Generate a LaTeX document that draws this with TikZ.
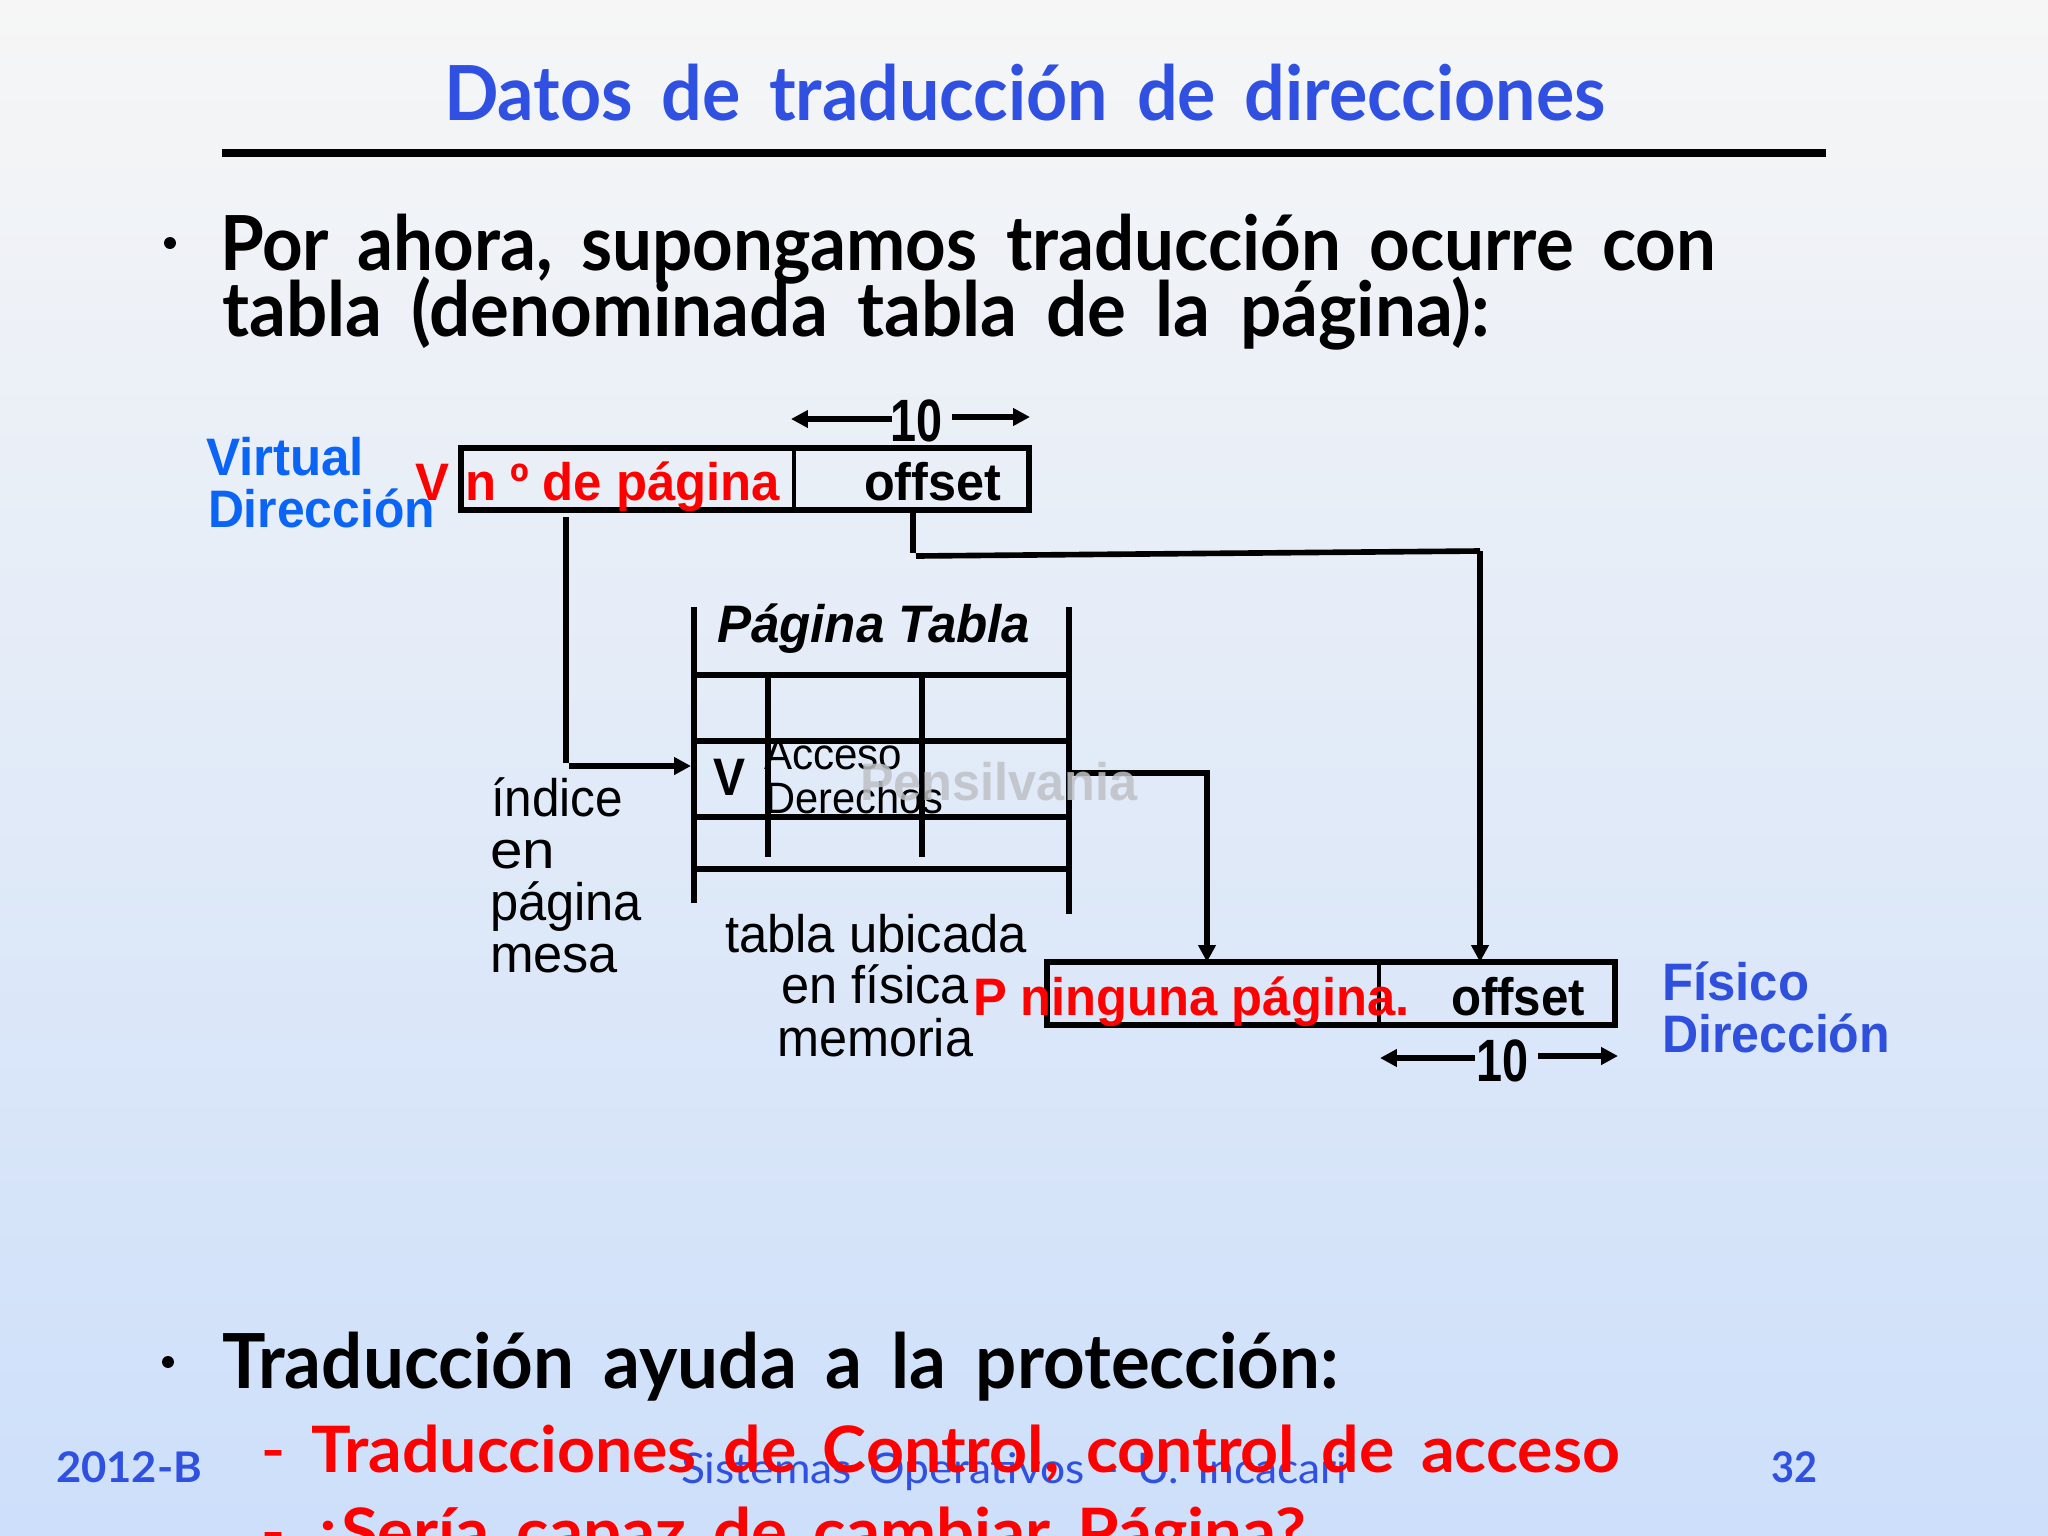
\documentclass[tikz,border=0pt]{standalone}
\usepackage{fontspec}
\usepackage{graphicx}
\setmainfont{Liberation Sans}
\newfontfamily\comic{Lato}
\usetikzlibrary{arrows.meta}
\definecolor{bgtop}{HTML}{F6F6F6}
\definecolor{bgbot}{HTML}{CDDFFA}
\definecolor{titleblue}{HTML}{2F50E0}
\definecolor{virtblue}{HTML}{0A64F5}
\definecolor{physblue}{HTML}{2F50DC}
\definecolor{wmark}{HTML}{BEC2C6}
\newcommand\fitw[2]{\resizebox{#1cm}{\height}{#2}}
\newcommand\T[6]{\node[anchor=base west,inner sep=0pt,outer sep=0pt,#5] (#1) at (#2,#3) {\fitw{#4}{#6}};}
\newcommand\TC[6]{\node[anchor=base west,inner sep=0pt,outer sep=0pt,#5] (#1) at (#2,#3) {\spaceskip=.4em\relax\fitw{#4}{#6}};}
\tikzset{
  title/.style={font=\comic\bfseries\fontsize{21.6pt}{24pt}\selectfont,text=titleblue},
  body/.style={font=\comic\bfseries\fontsize{21.6pt}{24pt}\selectfont,text=black},
  sub/.style={font=\comic\bfseries\fontsize{18.2pt}{22pt}\selectfont,text=red},
  foot/.style={font=\comic\bfseries\fontsize{12pt}{14pt}\selectfont,text=titleblue},
  footmid/.style={font=\comic\fontsize{12pt}{14pt}\selectfont,text=titleblue},
  lab/.style={font=\fontsize{15pt}{17pt}\selectfont,text=black},
  labb/.style={font=\bfseries\fontsize{15pt}{17pt}\selectfont,text=black},
  tenlab/.style={font=\bfseries\fontsize{17pt}{19pt}\selectfont,text=black},
  small/.style={font=\fontsize{12.5pt}{14pt}\selectfont,text=black},
  box/.style={draw=black,line width=1.6pt,inner sep=0pt,outer sep=0pt,minimum width=#1},
  wire/.style={line width=1.6pt,draw=black},
  grid/.style={line width=1.5pt,draw=black},
  tip/.style={-{Triangle[length=4.8pt,width=4.8pt]}},
  bit/.style={line width=1.4pt,draw=black},
  bullet/.style={circle,fill=black,inner sep=0pt,minimum size=3.4pt},
}
\begin{document}
\begin{tikzpicture}[x=0.01cm,y=-0.01cm]
\useasboundingbox (0,0) rectangle (2048,1536);
\clip (0,0) rectangle (2048,1536);
\shade[top color=bgtop,bottom color=bgbot] (0,0) rectangle (2048,1536);
% title
\TC{title}{444}{120}{11.61}{title}{Datos de traducción de direcciones}
\draw[line width=2pt] (222,153) -- (1826,153);
% first bullet
\node[bullet] (b1) at (170,243) {};
\TC{l1}{220}{270}{14.95}{body}{Por ahora, supongamos traducción ocurre con}
\TC{l2}{222}{336}{12.67}{body}{tabla (denominada tabla de la página):}
% footer
\T{f1}{56}{1482}{1.46}{foot}{2012-B}
\TC{f2}{681}{1483}{6.66}{footmid}{Sistemas Operativos - U. Incacari}
\T{f3}{1771}{1482}{0.46}{foot}{32}
% second bullet
\node[bullet] (b2) at (168,1362) {};
\TC{l3}{222}{1388}{11.16}{body}{Traducción ayuda a la protección:}
\T{d1}{261}{1472}{0.24}{sub}{–}
\TC{l4}{311}{1472}{13.08}{sub}{Traducciones de Control, control de acceso}
\T{d2}{261}{1554}{0.24}{sub}{–}
\TC{l5}{311}{1554}{9.94}{sub}{¿Sería capaz de cambiar Página?}
% virtual address
\node[box=5.68cm,minimum height=0.62cm] (vbox) at (745,479) {};
\draw[bit] (794,448) -- (794,510);
\T{virt}{206}{475}{1.58}{labb,text=virtblue}{Virtual}
\T{vdir}{208}{527}{2.27}{labb,text=virtblue}{Dirección}
\T{vv}{415}{500}{0.34}{labb,text=red}{V}
\T{vpage}{465}{500}{3.15}{labb,text=red}{n º de página}
\T{voff}{864}{500}{1.37}{labb}{offset}
\T{vten}{890}{441}{0.52}{tenlab}{10}
\coordinate (vl) at (791,419);
\coordinate (vl2) at (892,419);
\coordinate (vr) at (952,417);
\coordinate (vr2) at (1030,417);
\draw[wire,tip] (vl2) -- (vl);
\draw[wire,tip] (vr) -- (vr2);
% table
\foreach \yy in {675,741,817,869} \draw[grid] (694,\yy) -- (1069,\yy);
\draw[grid] (694,607) -- (694,903);
\draw[grid] (1069,607) -- (1069,914);
\draw[grid] (768,675) -- (768,857);
\draw[grid] (922,675) -- (922,857);
\T{ptab}{717}{642}{3.13}{labb,font=\bfseries\itshape\fontsize{15pt}{17pt}\selectfont}{Página Tabla}
\T{vcell}{713}{795}{0.32}{labb}{V}
\T{acc}{764}{769}{1.38}{small}{Acceso}
\T{der}{765}{813}{1.78}{small}{Derechos}
% physical address
\node[box=5.68cm,minimum height=0.63cm] (pbox) at (1331,993.5) {};
\draw[bit] (1379,962) -- (1379,1025);
\T{ppage}{973}{1015}{4.36}{labb,text=red}{P ninguna página.}
\T{poff}{1451}{1015}{1.34}{labb}{offset}
\T{fis}{1662}{1000}{1.47}{labb,text=physblue}{Físico}
\T{pdir}{1662}{1052}{2.28}{labb,text=physblue}{Dirección}
\T{pten}{1476}{1081}{0.52}{tenlab}{10}
\coordinate (pl) at (1380,1058);
\coordinate (pl2) at (1475,1058);
\coordinate (pr) at (1538,1056);
\coordinate (pr2) at (1618,1056);
\draw[wire,tip] (pl2) -- (pl);
\draw[wire,tip] (pr) -- (pr2);
% labels
\T{i1}{491}{816}{1.32}{lab}{índice}
\T{i2}{490}{868}{0.65}{lab}{en}
\T{i3}{490}{920}{1.52}{lab}{página}
\T{i4}{490}{972}{1.28}{lab}{mesa}
\T{t1}{725}{952}{3.02}{lab}{tabla ubicada}
\T{t2}{781}{1003}{1.88}{lab}{en física}
\T{t3}{777}{1056}{1.96}{lab}{memoria}
% connectors
\coordinate (a1) at (566,517);
\coordinate (a2) at (566,763);
\coordinate (a3) at (569,766);
\coordinate (a4) at (691,766);
\draw[wire] (a1) -- (a2);
\draw[wire,tip] (a3) -- (a4);
\coordinate (o1) at (913,513);
\coordinate (o2) at (913,553);
\coordinate (o3) at (916,556);
\coordinate (o4) at (1480,551);
\draw[wire] (o1) -- (o2);
\draw[wire] (o3) -- (o4);
\draw[wire,tip] (o4) -- (o4 |- pbox.north);
\coordinate (r1) at (1071,773);
\coordinate (r2) at (1207,773);
\draw[wire,tip] (r1) -- (r2) -- (r2 |- pbox.north);
% watermark
\T{wm}{860}{800}{2.77}{labb,text=wmark,text opacity=0.85}{Pensilvania}
\end{tikzpicture}
\end{document}
